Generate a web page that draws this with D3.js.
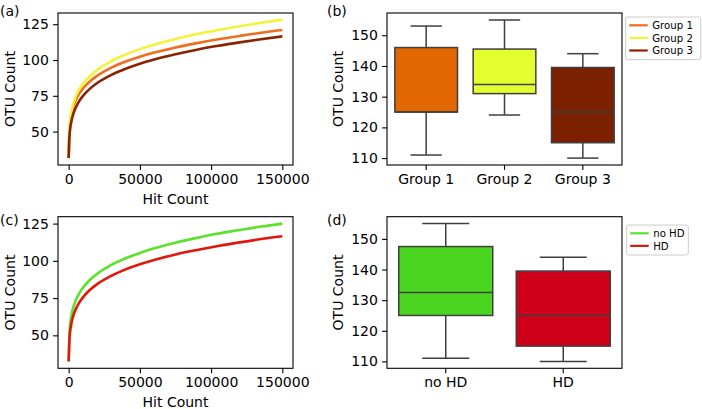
<!DOCTYPE html>
<html><head><meta charset="utf-8">
<script src="https://cdn.jsdelivr.net/npm/d3@7"></script>
<style>
html,body{margin:0;padding:0;background:#fff;}
svg text{font-family:"DejaVu Sans",sans-serif;fill:#000;}
</style></head>
<body><svg id="c" width="702" height="409"></svg>
<script>
// ---- Data ----
const hitCounts = [0, 500, 1000, 2000, 3500, 5000, 7500, 10000, 15000, 20000, 30000, 40000, 50000, 60000, 75000, 90000, 105000, 120000, 135000, 150000];
const group1Curve = [31.5, 50.8, 56.4, 62.7, 68.3, 72.1, 76.7, 80.1, 85.2, 89.0, 94.7, 98.9, 102.3, 105.2, 108.8, 111.8, 114.5, 116.8, 119.0, 120.9];
const group2Curve = [31.5, 51.7, 57.7, 64.5, 70.5, 74.6, 79.6, 83.3, 88.8, 93.0, 99.2, 103.8, 107.6, 110.7, 114.7, 118.1, 121.0, 123.6, 126.0, 128.0];
const group3Curve = [31.5, 46.0, 51.5, 57.6, 63.1, 66.9, 71.5, 74.9, 80.0, 83.9, 89.6, 93.9, 97.4, 100.3, 104.0, 107.2, 109.9, 112.3, 114.5, 116.5];
const noHDCurve   = [32.5, 51.4, 57.3, 63.8, 69.6, 73.6, 78.4, 82.0, 87.3, 91.3, 97.3, 101.7, 105.3, 108.4, 112.2, 115.4, 118.3, 120.7, 123.0, 125.0];
const hdCurve     = [32.5, 46.8, 52.3, 58.4, 63.9, 67.6, 72.1, 75.5, 80.6, 84.4, 90.0, 94.3, 97.7, 100.6, 104.3, 107.3, 110.0, 112.4, 114.6, 116.5];

const groupNames = ["Group 1", "Group 2", "Group 3"];
// [whiskerLow, q1, median, q3, whiskerHigh]
const groupBoxes = [[111, 125, 125, 146, 153], [124, 131, 134, 145.5, 155], [110, 115, 125, 139.5, 144]];
const hdNames = ["no HD", "HD"];
const hdBoxes = [[111, 125, 132.5, 147.5, 155], [110, 115, 125, 139.5, 144]];

const xTicks = [0, 50000, 100000, 150000];
const curveYTicks = [50, 75, 100, 125];
const boxYTicks = [110, 120, 130, 140, 150];

const groupLineColors = ["#f06d1e", "#f3f33a", "#8a2300"];
const groupBoxColors = ["#e26700", "#e3ff2e", "#7b2100"];
const hdLineColors = ["#5be22a", "#e3160c"];
const hdBoxColors = ["#4ad520", "#cf0019"];

// ---- Drawing ----
const svg = d3.select("#c");
const FS = 14;

function frame(g, x0, y0, x1, y1) {
  g.append("rect").attr("x", x0).attr("y", y0).attr("width", x1 - x0).attr("height", y1 - y0)
    .attr("fill", "none").attr("stroke", "#000").attr("stroke-width", 1.1);
}
function styleAxis(sel) {
  sel.select(".domain").remove();
  sel.selectAll(".tick line").attr("stroke", "#000").attr("stroke-width", 1.1);
  sel.selectAll(".tick text").attr("font-size", FS).attr("font-family", "DejaVu Sans");
}
function ylabel(x, y, t) {
  svg.append("text").attr("transform", `translate(${x},${y}) rotate(-90)`).attr("text-anchor", "middle")
    .attr("font-size", FS).text(t);
}
function padDomain(lo, hi) { const p = (hi - lo) * 0.05; return [lo - p, hi + p]; }

function linePanel(x0, y0, x1, y1, series, colors, yTicks, label, lx, ly) {
  const allY = series.flat();
  const x = d3.scaleLinear().domain(padDomain(d3.min(hitCounts), d3.max(hitCounts))).range([x0, x1]);
  const y = d3.scaleLinear().domain(padDomain(d3.min(allY), d3.max(allY))).range([y1, y0]);
  const g = svg.append("g");
  const line = d3.line().x((d, i) => x(hitCounts[i])).y(d => y(d)).curve(d3.curveMonotoneX);
  series.forEach((s, i) => {
    g.append("path").datum(s).attr("d", line).attr("fill", "none").attr("stroke", colors[i])
      .attr("stroke-width", 2.6).attr("stroke-linecap", "butt");
  });
  const xa = g.append("g").attr("transform", `translate(0,${y1})`)
    .call(d3.axisBottom(x).tickValues(xTicks).tickFormat(d3.format("d")).tickSize(4.9).tickPadding(4.2));
  styleAxis(xa);
  const ya = g.append("g").attr("transform", `translate(${x0},0)`)
    .call(d3.axisLeft(y).tickValues(yTicks).tickSize(4.9).tickPadding(4.2));
  styleAxis(ya);
  frame(g, x0, y0, x1, y1);
  svg.append("text").attr("x", (x0 + x1) / 2).attr("y", y1 + 39).attr("text-anchor", "middle").attr("font-size", FS).text("Hit Count");
  ylabel(15, (y0 + y1) / 2, "OTU Count");
  svg.append("text").attr("x", lx).attr("y", ly).attr("font-size", FS).text(label);
}

function boxPanel(x0, y0, x1, y1, names, boxes, colors, legendColors, yTicks, label, lx, ly, legX, legY, legW) {
  const all = boxes.flat();
  const x = d3.scaleBand().domain(names).range([x0, x1]).paddingInner(0).paddingOuter(0);
  const y = d3.scaleLinear().domain(padDomain(d3.min(all), d3.max(all))).range([y1, y0]);
  const g = svg.append("g");
  const bw = x.bandwidth() * 0.8;
  const lc = "#3f3f3f";
  boxes.forEach((b, i) => {
    const cx = x(names[i]) + x.bandwidth() / 2;
    g.append("line").attr("x1", cx).attr("x2", cx).attr("y1", y(b[0])).attr("y2", y(b[1])).attr("stroke", lc).attr("stroke-width", 1.5);
    g.append("line").attr("x1", cx).attr("x2", cx).attr("y1", y(b[3])).attr("y2", y(b[4])).attr("stroke", lc).attr("stroke-width", 1.5);
    [b[0], b[4]].forEach(v => g.append("line").attr("x1", cx - bw / 4).attr("x2", cx + bw / 4).attr("y1", y(v)).attr("y2", y(v)).attr("stroke", lc).attr("stroke-width", 1.5));
    g.append("rect").attr("x", cx - bw / 2).attr("y", y(b[3])).attr("width", bw).attr("height", y(b[1]) - y(b[3]))
      .attr("fill", colors[i]).attr("stroke", lc).attr("stroke-width", 1.5);
    g.append("line").attr("x1", cx - bw / 2).attr("x2", cx + bw / 2).attr("y1", y(b[2])).attr("y2", y(b[2])).attr("stroke", lc).attr("stroke-width", 1.5);
  });
  const xa = g.append("g").attr("transform", `translate(0,${y1})`)
    .call(d3.axisBottom(x).tickSize(4.9).tickPadding(4.2));
  styleAxis(xa);
  const ya = g.append("g").attr("transform", `translate(${x0},0)`)
    .call(d3.axisLeft(y).tickValues(yTicks).tickSize(4.9).tickPadding(4.2));
  styleAxis(ya);
  frame(g, x0, y0, x1, y1);
  ylabel(342.5, (y0 + y1) / 2, "OTU Count");
  svg.append("text").attr("x", lx).attr("y", ly).attr("font-size", FS).text(label);
  // legend
  const lg = svg.append("g");
  const rowH = 12.6;
  const h = names.length * rowH + 4.8;
  lg.append("rect").attr("x", legX).attr("y", legY).attr("width", legW).attr("height", h).attr("rx", 2)
    .attr("fill", "#fff").attr("stroke", "#cccccc").attr("stroke-width", 1);
  names.forEach((n, i) => {
    const cy = legY + 8.3 + i * rowH;
    lg.append("line").attr("x1", legX + 3.5).attr("x2", legX + 22).attr("y1", cy).attr("y2", cy)
      .attr("stroke", legendColors[i]).attr("stroke-width", 2.2);
    lg.append("text").attr("x", legX + 26.5).attr("y", cy + 3.7).attr("font-size", 10.2).text(n);
  });
}

linePanel(58, 13, 293, 165, [group1Curve, group2Curve, group3Curve], groupLineColors, curveYTicks, "(a)", 0, 15.5);
boxPanel(387, 13, 622, 165, groupNames, groupBoxes, groupBoxColors, groupLineColors, boxYTicks, "(b)", 327, 15.5, 625.7, 17, 75);
linePanel(58, 216.7, 293, 368.3, [noHDCurve, hdCurve], hdLineColors, curveYTicks, "(c)", 0, 225);
boxPanel(387, 216.7, 622, 368.3, hdNames, hdBoxes, hdBoxColors, hdLineColors, boxYTicks, "(d)", 327, 225, 626.7, 225, 61.6);
</script></body></html>
